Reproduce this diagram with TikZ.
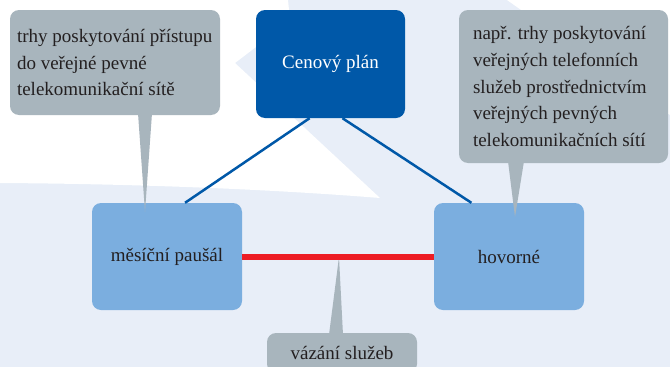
\documentclass[tikz,border=0pt]{standalone}
\usepackage{fontspec}
\setmainfont{Liberation Serif}
\usetikzlibrary{calc}
\definecolor{bgblue}{HTML}{E8EEF8}
\definecolor{darkblue}{HTML}{0058A8}
\definecolor{boxblue}{HTML}{7BAEDF}
\definecolor{callgray}{HTML}{A8B5BD}
\definecolor{txt}{HTML}{231F20}
\definecolor{linered}{HTML}{ED1C24}
\tikzset{
  basebox/.style={rectangle, rounded corners=9pt, inner sep=0pt, font=\fontsize{19}{26.7}\selectfont},
  mainbox/.style={basebox, fill=darkblue, text=white, minimum width=149pt, minimum height=108pt},
  subbox/.style={basebox, fill=boxblue, text=txt, minimum width=150pt, minimum height=107pt},
  callbox/.style={basebox, fill=callgray},
  calltext/.style={inner sep=0pt, align=left, text=txt, font=\fontsize{19}{26.7}\selectfont},
  tail/.style={fill=callgray},
  bluelink/.style={draw=darkblue, line width=2.5pt},
  redlink/.style={draw=linered, line width=6pt}
}
\begin{document}
\begin{tikzpicture}[x=1pt,y=-1pt]
\useasboundingbox (0,0) rectangle (670,367);
\clip (0,0) rectangle (670,367);
% background
\fill[bgblue] (0,0) rectangle (670,367);
\fill[white] (0,0) -- (288,0) -- (290,20) -- (256,47) -- (235,63) -- (380,198)
  .. controls (280,190) and (150,184) .. (0,183) -- cycle;
\fill[white] (507,0) -- (670,0) -- (670,115) -- cycle;
% nodes
\node[mainbox] (cp) at (330.5,64) {Cenový plán};
\node[subbox] (mp) at (167,256.5) {měsíční paušál};
\node[subbox] (hv) at (509,256.5) {hovorné};
% connectors
\draw[bluelink] ($(cp.south west)!0.36!(cp.south east)$) -- ($(mp.north west)!0.62!(mp.north east)$);
\draw[bluelink] ($(cp.south west)!0.58!(cp.south east)$) -- ($(hv.north west)!0.25!(hv.north east)$);
% callouts
\node[callbox, minimum width=210pt, minimum height=105pt] (co1) at (115,62.5) {};
\node[calltext, anchor=west] (ct1) at ([xshift=7pt]co1.west) {trhy poskytování přístupu\\do veřejné pevné\\telekomunikační sítě};
\node[callbox, minimum width=209pt, minimum height=153pt] (co2) at (563.5,86.5) {};
\node[calltext, anchor=west] (ct2) at ([xshift=14pt]co2.west) {např. trhy poskytování\\veřejných telefonních\\služeb prostřednictvím\\veřejných pevných\\telekomunikačních sítí};
\node[callbox, minimum width=150pt, minimum height=40pt, text=txt] (vz) at (342,353) {vázání služeb};
\coordinate (tip1) at (145,212);
\coordinate (tip2) at (515,217);
\coordinate (tip3) at (339,257);
\fill[tail] ([xshift=23pt,yshift=2pt]co1.south) -- ([xshift=37pt,yshift=2pt]co1.south) -- (tip1) -- cycle;
\fill[tail] ([xshift=-55.5pt,yshift=2pt]co2.south) -- ([xshift=-39.5pt,yshift=2pt]co2.south) -- (tip2) -- cycle;
\fill[tail] ([xshift=-13pt,yshift=-2pt]vz.north) -- ([xshift=1pt,yshift=-2pt]vz.north) -- (tip3) -- cycle;
\draw[redlink] (mp.east) -- (hv.east -| hv.west);
\end{tikzpicture}
\end{document}
